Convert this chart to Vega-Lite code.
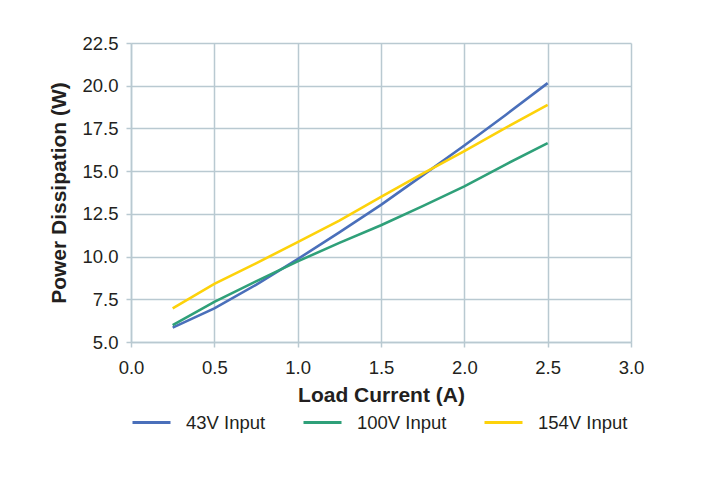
{
  "$schema": "https://vega.github.io/schema/vega-lite/v6.json",
  "width": 500,
  "height": 299,
  "autosize": "none",
  "padding": {"left": 131, "top": 43, "right": 78, "bottom": 139},
  "background": "white",
  "config": {
    "font": "Liberation Sans",
    "view": {"stroke": null},
    "axis": {
      "gridColor": "#b9c9d1",
      "gridWidth": 1.5,
      "domainColor": "#b9c9d1",
      "domainWidth": 1.5,
      "tickColor": "#b9c9d1",
      "tickWidth": 1.5,
      "tickSize": 5,
      "labelFlush": false,
      "labelFont": "Liberation Sans",
      "labelFontSize": 18.5,
      "labelColor": "#231f20",
      "titleFont": "Liberation Sans",
      "titleFontSize": 21,
      "titleFontWeight": "bold",
      "titleColor": "#231f20"
    },
    "legend": {
      "labelFont": "Liberation Sans",
      "labelFontSize": 18.5,
      "labelColor": "#231f20"
    }
  },
  "data": {
    "values": [
      {"current": 0.25, "power": 5.84, "series": "43V Input"},
      {"current": 0.5, "power": 6.97, "series": "43V Input"},
      {"current": 0.75, "power": 8.35, "series": "43V Input"},
      {"current": 1.0, "power": 9.85, "series": "43V Input"},
      {"current": 1.25, "power": 11.42, "series": "43V Input"},
      {"current": 1.5, "power": 13.03, "series": "43V Input"},
      {"current": 1.75, "power": 14.75, "series": "43V Input"},
      {"current": 2.0, "power": 16.5, "series": "43V Input"},
      {"current": 2.25, "power": 18.3, "series": "43V Input"},
      {"current": 2.5, "power": 20.15, "series": "43V Input"},
      {"current": 0.25, "power": 5.99, "series": "100V Input"},
      {"current": 0.5, "power": 7.35, "series": "100V Input"},
      {"current": 0.75, "power": 8.55, "series": "100V Input"},
      {"current": 1.0, "power": 9.72, "series": "100V Input"},
      {"current": 1.25, "power": 10.8, "series": "100V Input"},
      {"current": 1.5, "power": 11.83, "series": "100V Input"},
      {"current": 1.75, "power": 12.95, "series": "100V Input"},
      {"current": 2.0, "power": 14.11, "series": "100V Input"},
      {"current": 2.25, "power": 15.4, "series": "100V Input"},
      {"current": 2.5, "power": 16.64, "series": "100V Input"},
      {"current": 0.25, "power": 6.97, "series": "154V Input"},
      {"current": 0.5, "power": 8.4, "series": "154V Input"},
      {"current": 0.75, "power": 9.6, "series": "154V Input"},
      {"current": 1.0, "power": 10.85, "series": "154V Input"},
      {"current": 1.25, "power": 12.1, "series": "154V Input"},
      {"current": 1.5, "power": 13.49, "series": "154V Input"},
      {"current": 1.75, "power": 14.85, "series": "154V Input"},
      {"current": 2.0, "power": 16.17, "series": "154V Input"},
      {"current": 2.25, "power": 17.55, "series": "154V Input"},
      {"current": 2.5, "power": 18.88, "series": "154V Input"}
    ]
  },
  "mark": {"type": "line", "strokeWidth": 2.6},
  "encoding": {
    "x": {
      "field": "current",
      "type": "quantitative",
      "title": "Load Current (A)",
      "scale": {"domain": [0, 3], "nice": false},
      "axis": {"values": [0, 0.5, 1, 1.5, 2, 2.5, 3], "format": ".1f", "labelPadding": 11, "titlePadding": 8}
    },
    "y": {
      "field": "power",
      "type": "quantitative",
      "title": "Power Dissipation (W)",
      "scale": {"domain": [5, 22.5], "nice": false, "zero": false},
      "axis": {"values": [5, 7.5, 10, 12.5, 15, 17.5, 20, 22.5], "format": ".1f", "labelPadding": 8, "titlePadding": 12}
    },
    "color": {
      "field": "series",
      "type": "nominal",
      "sort": ["43V Input", "100V Input", "154V Input"],
      "scale": {"domain": ["43V Input", "100V Input", "154V Input"], "range": ["#4a6fba", "#2fa079", "#fdd20a"]},
      "legend": {
        "title": null,
        "orient": "bottom",
        "direction": "horizontal",
        "symbolType": "stroke",
        "symbolSize": 1444,
        "symbolStrokeWidth": 3,
        "labelOffset": 14,
        "columnPadding": 31,
        "offset": -4
      }
    }
  }
}
